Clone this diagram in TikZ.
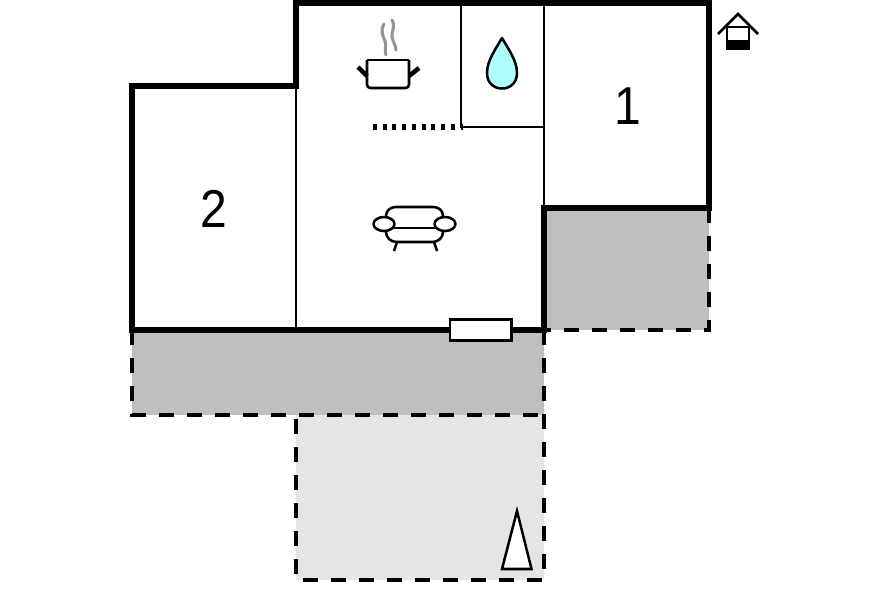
\documentclass[tikz,border=0pt]{standalone}
\usepackage{fontspec}
\setmainfont{Liberation Sans}
\definecolor{dropcyan}{HTML}{AFFFFF}
\tikzset{
  wall/.style={line width=4.2pt,line cap=butt,line join=miter},
  thin wall/.style={line width=2.1pt},
  icon/.style={line width=1.9pt,line join=round},
  dashline/.style={line width=2.5pt,dash pattern=on 11pt off 10pt},
  roomlabel/.style={font=\fontsize{40}{40}\selectfont,inner sep=0pt,text=black,xscale=0.9}
}
\begin{document}
\begin{tikzpicture}[x=0.75pt,y=-0.75pt]
\useasboundingbox (0,0) rectangle (896,597);
% terraces
\fill[black!25] (132,330) rectangle (544,415);
\fill[black!25] (544,208) rectangle (709,330);
\fill[black!10] (296,415) rectangle (544,580);
% dashed terrace outlines
\draw[dashline] (709,208) -- (709,330) -- (544,330);
\draw[dashline] (132,330) -- (132,415) -- (544,415);
\draw[dashline] (544,330) -- (544,580) -- (296,580) -- (296,415);
% inner walls
\draw[thin wall] (296,86) -- (296,330);
\draw[thin wall] (461,3) -- (461,127) -- (544,127);
\draw[thin wall] (544,3) -- (544,208);
% counter
\draw[line width=5pt,dash pattern=on 3pt off 4.3pt] (373,127) -- (463,127);
% outer walls
\draw[wall] (132,330) -- (132,86) -- (296,86) -- (296,3) -- (709,3) -- (709,208) -- (544,208) -- (544,330) -- cycle;
% window
\draw[line width=1.9pt,fill=white] (450,319.5) rectangle (511.5,340.5);
% pot
\draw[icon,rounded corners=2.5pt] (367,60) -- (367,88) -- (409,88) -- (409,60);
\draw[icon] (367,60) -- (409,60);
\draw[line width=3.4pt] (367,76) -- (358,67);
\draw[line width=3.4pt] (409,76) -- (419,68);
\draw[black!42,line width=2.3pt,line cap=round] (384,24) .. controls (380,31) and (383,36) .. (385,41) .. controls (387,46) and (384,50) .. (386,55);
\draw[black!42,line width=2.3pt,line cap=round] (392,20) .. controls (396,27) and (391,32) .. (392,37) .. controls (393,42) and (396,46) .. (396,50);
% drop
\draw[icon,fill=dropcyan] (502,38) .. controls (495,50) and (487,61) .. (487,73) .. controls (487,83) and (494,88.5) .. (502,88.5) .. controls (510,88.5) and (517,83) .. (517,73) .. controls (517,61) and (509,50) .. (502,38) -- cycle;
% sofa
\draw[icon,fill=white] (386,216) .. controls (386,210) and (391,207) .. (396,207) -- (433,207) .. controls (438,207) and (443,210) .. (443,216) -- (443,232) .. controls (443,238) and (438,242) .. (432,242) -- (397,242) .. controls (391,242) and (386,238) .. (386,232) -- cycle;
\draw[icon] (386,228) -- (443,228);
\draw[icon,fill=white] (384,224) ellipse [x radius=10.5,y radius=7];
\draw[icon,fill=white] (445,224) ellipse [x radius=10.5,y radius=7];
\draw[icon] (397,242) -- (394,251);
\draw[icon] (434,242) -- (437,251);
% tree
\draw[icon,fill=white,line join=miter] (517,511) -- (531.5,569) -- (502,569) -- cycle;
% house symbol
\draw[icon,line join=miter] (718,34) -- (738,14) -- (758,34);
\draw[line width=1.7pt,fill=white] (727,27) rectangle (749,49);
\fill[black] (726.5,40) rectangle (749.5,49.5);
% room numbers
\node[roomlabel] (roomone) at (628,106) {1};
\node[roomlabel] (roomtwo) at (214,209) {2};
\end{tikzpicture}
\end{document}
